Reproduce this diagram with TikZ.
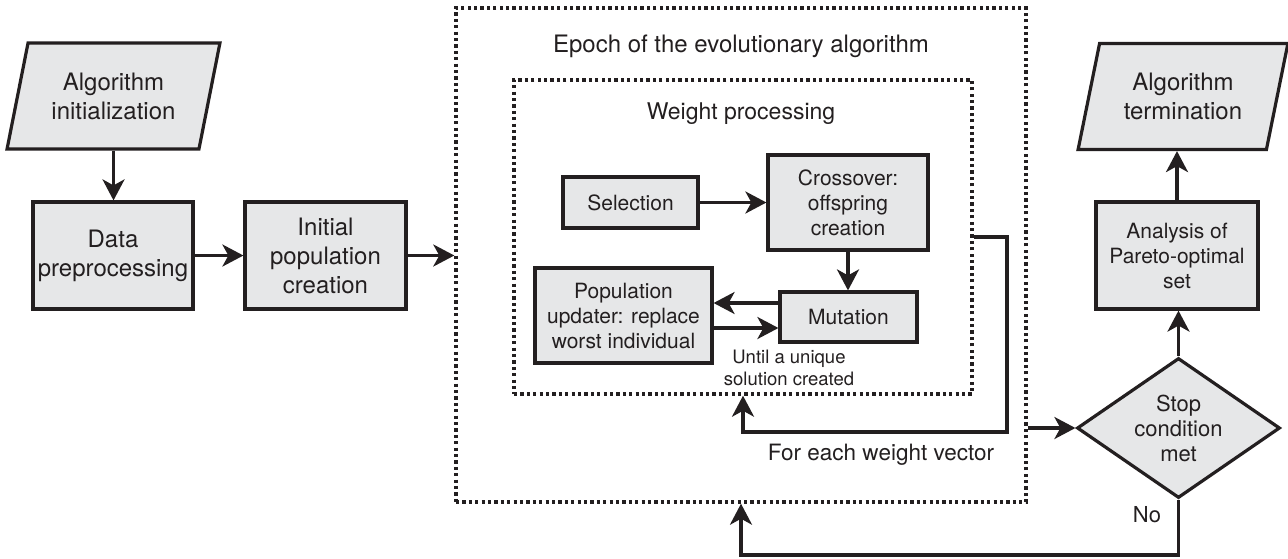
\documentclass[tikz,border=0pt]{standalone}
\usepackage{fontspec}
\setmainfont{TeX Gyre Heros}
\usetikzlibrary{shapes.geometric,arrows.meta}
\definecolor{ink}{HTML}{231F20}
\definecolor{boxfill}{HTML}{E6E7E8}
\begin{document}
\begin{tikzpicture}[x=1pt, y=-1pt,
  box/.style = {draw=ink, fill=boxfill, line width=3.2pt, align=center, inner sep=0pt, text=ink, font=\fontsize{24}{29}\selectfont},
  sbox/.style = {box, font=\fontsize{21}{25}\selectfont},
  iobox/.style = {box, trapezium, trapezium left angle=72, trapezium right angle=108, trapezium stretches=true},
  decbox/.style = {box, diamond, font=\fontsize{22}{25}\selectfont},
  frame/.style = {draw=ink, line width=3.4pt, dash pattern=on 3.2pt off 3.2pt},
  lbl/.style = {align=center, inner sep=0pt, text=ink},
  arr/.style = {draw=ink, line width=3.2pt, -{Stealth[length=21pt,width=22pt,inset=6pt]}}]
  \useasboundingbox (0,0) rectangle (1288,558);

  \node[frame, minimum width=570pt, minimum height=494pt] (epoch) at (741,255) {};
  \node[frame, minimum width=458pt, minimum height=314pt] (wproc) at (743,237) {};
  \node[lbl, font=\fontsize{24}{29}\selectfont] (epochtitle) at (741,46) {Epoch of the evolutionary algorithm};
  \node[lbl, font=\fontsize{23}{28}\selectfont] (wtitle) at (741,114) {Weight processing};

  \node[iobox, minimum width=213pt, minimum height=106pt] (ainit) at (113.5,96) {Algorithm\\initialization};
  \node[box, minimum width=160pt, minimum height=107pt] (prep) at (113,255.5) {Data\\preprocessing};
  \node[box, minimum width=161pt, minimum height=107pt] (initpop) at (325.5,255.5) {Initial\\population\\creation};

  \node[sbox, minimum width=135pt, minimum height=51pt] (sel) at (630.5,202.5) {Selection};
  \node[sbox, minimum width=160pt, minimum height=95pt] (cross) at (848,202.5) {Crossover:\\offspring\\creation};
  \node[sbox, minimum width=137pt, minimum height=50pt] (mut) at (848.5,317) {Mutation};
  \node[sbox, minimum width=177pt, minimum height=95pt] (popupd) at (623.5,315.5) {Population\\updater: replace\\worst individual};
  \node[lbl, font=\fontsize{18.5}{22}\selectfont] (until) at (789,368) {Until a unique\\solution created};
  \node[lbl, font=\fontsize{22.5}{27}\selectfont] (foreach) at (881,455) {For each weight vector};

  \node[decbox, minimum width=203pt, minimum height=140pt, aspect=1.45] (stop) at (1178.5,428) {Stop\\condition\\met};
  \node[sbox, minimum width=162pt, minimum height=107pt] (analysis) at (1177,255.5) {Analysis of\\Pareto-optimal\\set};
  \node[iobox, minimum width=210pt, minimum height=106pt] (aterm) at (1183,96.5) {Algorithm\\termination};
  \node[lbl, font=\fontsize{22}{26}\selectfont] (no) at (1147,515) {No};

  \coordinate (wturn) at (1007,432);
  \coordinate (noturn) at (1178.5,555);

  \draw[arr] (ainit.south) -- (ainit.south |- prep.north);
  \draw[arr] (prep.east) -- (initpop.west);
  \draw[arr] (initpop.east) -- (initpop.east -| epoch.west);
  \draw[arr] (sel.east) -- (sel.east -| cross.west);
  \draw[arr] (cross.south) -- (cross.south |- mut.north);
  \draw[arr] ([yshift=14pt]mut.west) -- ([yshift=14pt]mut.west -| popupd.east);
  \draw[arr] ([yshift=-11pt]mut.west -| popupd.east) -- ([yshift=-11pt]mut.west);
  \draw[arr] (wproc.east) -| (wturn) -| (wproc.south);
  \draw[arr] (stop.west -| epoch.east) -- (stop.west);
  \draw[arr] (stop.north) -- (stop.north |- analysis.south);
  \draw[arr] (analysis.north) -- (analysis.north |- aterm.south);
  \draw[arr] (stop.south) -- (noturn) -| (epoch.south);
\end{tikzpicture}
\end{document}
